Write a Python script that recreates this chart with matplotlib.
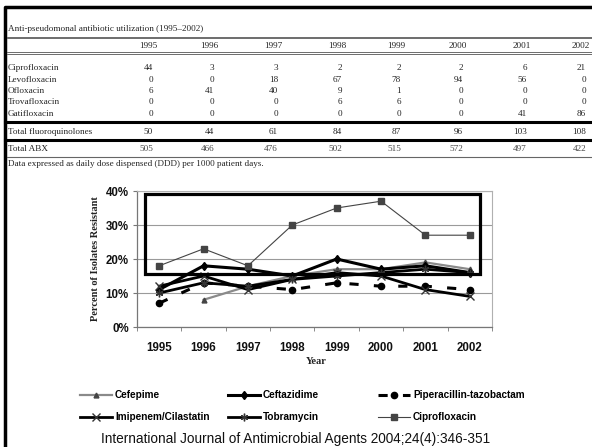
import numpy as np
import matplotlib
matplotlib.use("Agg")
import matplotlib.pyplot as plt
from matplotlib.lines import Line2D
from matplotlib.patches import Rectangle
from matplotlib.ticker import FuncFormatter, FixedLocator

# utilisation table (DDD per 1000 patient days)
years = ["1995", "1996", "1997", "1998", "1999", "2000", "2001", "2002"]
drugs = ["Ciprofloxacin", "Levofloxacin", "Ofloxacin", "Trovafloxacin", "Gatifloxacin"]
cipro_ddd = [44, 3, 3, 2, 2, 2, 6, 21]
levo_ddd = [0, 0, 18, 67, 78, 94, 56, 0]
oflo_ddd = [6, 41, 40, 9, 1, 0, 0, 0]
trova_ddd = [0, 0, 0, 6, 6, 0, 0, 0]
gati_ddd = [0, 0, 0, 0, 0, 0, 41, 86]
total_fq = [50, 44, 61, 84, 87, 96, 103, 108]
total_abx = [505, 466, 476, 502, 515, 572, 497, 422]

# resistance (% of isolates)
cefepime = [np.nan, 8, 12, 15, 17, 17, 19, 17]
ceftazidime = [11, 18, 17, 15, 20, 17, 18, 16]
piperacillin = [7, 13, 12, 11, 13, 12, 12, 11]
imipenem = [12, 15, 11, 14, 16, 15, 11, 9]
tobramycin = [10, 13, 12, 14, 15, 16, 17, 16]
ciprofloxacin = [18, 23, 18, 30, 35, 37, 27, 27]

W, H = 592, 447
fig = plt.figure(figsize=(W / 100, H / 100), dpi=100)


def fx(x):
    return x / W


def fy(y):
    return 1 - y / H


def hline(y, x0, x1, lw, color):
    fig.add_artist(Line2D([fx(x0), fx(x1)], [fy(y), fy(y)], lw=lw, color=color,
                          transform=fig.transFigure))


serif = "Liberation Serif"
sans = "Liberation Sans"

# page frame
fig.add_artist(Line2D([fx(5), fx(5), fx(592)], [fy(470), fy(7), fy(7)], lw=2.5,
                      color="black", transform=fig.transFigure))

# ---- table ----
tfs = 6.6
fig.text(fx(8), fy(29), "Anti-pseudomonal antibiotic utilization (1995\u20132002)",
         fontsize=tfs, family=serif, va="center", color="#222")
hline(36.5, 7, 592, 0.6, "#555")
hline(38, 7, 592, 0.6, "#555")
col_right = [157, 218, 282, 346, 405, 467, 531, 590]
for yr, xr in zip(years, col_right):
    fig.text(fx(xr), fy(45.5), yr, fontsize=tfs, family=serif, ha="right",
             va="center", color="#222")
hline(52, 7, 592, 0.6, "#555")
hline(53.5, 7, 592, 0.6, "#555")

rows = [cipro_ddd, levo_ddd, oflo_ddd, trova_ddd, gati_ddd]
row_y = [68, 79.5, 91, 102.5, 114]
for name, vals, ry in zip(drugs, rows, row_y):
    fig.text(fx(8), fy(ry), name, fontsize=tfs, family=serif, va="center", color="#222")
    for v, xr in zip(vals, col_right):
        fig.text(fx(xr - 4), fy(ry), str(v), fontsize=tfs, family=serif,
                 ha="right", va="center", color="#222")

hline(122, 5, 592, 2.2, "black")
fig.text(fx(8), fy(132), "Total fluoroquinolones", fontsize=tfs, family=serif,
         va="center", color="#222")
for v, xr in zip(total_fq, col_right):
    fig.text(fx(xr - 4), fy(132), str(v), fontsize=tfs, family=serif,
             ha="right", va="center", color="#222")
hline(140, 5, 592, 2.2, "black")
fig.text(fx(8), fy(149), "Total ABX", fontsize=tfs, family=serif, va="center", color="#222")
for v, xr in zip(total_abx, col_right):
    fig.text(fx(xr - 4), fy(149), str(v), fontsize=tfs, family=serif,
             ha="right", va="center", color="#444")
hline(157, 7, 592, 0.8, "#666")
fig.text(fx(8), fy(164), "Data expressed as daily dose dispensed (DDD) per 1000 patient days.",
         fontsize=tfs, family=serif, va="center", color="#222")

# ---- resistance chart ----
ax = fig.add_axes([fx(137), fy(327), fx(492) - fx(137), (327 - 191) / H])
x = np.arange(len(years))

ax.plot(x, cefepime, color="#8a8a8a", lw=1.6, marker="^", ms=3.5, mfc="#444",
        mec="#444", label="Cefepime", zorder=3)
ax.plot(x, ceftazidime, color="black", lw=2.2, marker="d", ms=4.5,
        label="Ceftazidime", zorder=4)
ax.plot(x, piperacillin, color="black", lw=2.2, ls=(0, (3, 5)), marker="o", ms=4.5,
        label="Piperacillin-tazobactam", zorder=4)
ax.plot(x, imipenem, color="black", lw=2.0, marker="x", ms=5.5, mew=1.0, mec="#333",
        label="Imipenem/Cilastatin", zorder=4)
ax.plot(x, tobramycin, color="black", lw=2.0, marker=(6, 2, 0), ms=5.5, mew=1.0,
        mec="#333", label="Tobramycin", zorder=4)
ax.plot(x, ciprofloxacin, color="#444", lw=0.8, marker="s", ms=4.2,
        label="Ciprofloxacin", zorder=4)

# highlight box around the fluoroquinolone/ceftazidime region
box_x0, box_x1 = -0.32, 7.22
box_y0, box_y1 = 15.5, 39.0
ax.add_patch(Rectangle((box_x0, box_y0), box_x1 - box_x0, box_y1 - box_y0,
                       fill=False, lw=2.3, ec="black", zorder=6))

ax.set_xlim(-0.5, len(years) - 0.5)
ax.set_ylim(0, 40)
ax.set_yticks([0, 10, 20, 30, 40])
ax.yaxis.set_major_formatter(FuncFormatter(lambda v, p: "%d%%" % v))
ax.grid(axis="y", color="#9a9a9a", lw=0.8)
ax.set_axisbelow(True)
ax.set_xticks(x)
ax.set_xticklabels(years)
ax.xaxis.set_minor_locator(FixedLocator(np.arange(-0.5, len(years), 1.0)))
ax.tick_params(axis="x", which="major", length=0, pad=11)
ax.tick_params(axis="x", which="minor", length=3, color="#777", direction="out")
ax.tick_params(axis="y", length=3, color="#777", direction="out", pad=3)
for lab in ax.get_xticklabels() + ax.get_yticklabels():
    lab.set_fontsize(8.3)
    lab.set_fontweight("bold")
    lab.set_family(sans)
    lab.set_color("#111")
for s in ["top", "right"]:
    ax.spines[s].set_color("#b0b0b0")
    ax.spines[s].set_linewidth(0.8)
for s in ["left", "bottom"]:
    ax.spines[s].set_color("#777")
    ax.spines[s].set_linewidth(0.9)

fig.text(fx(96), fy(259), "Percent of Isolates Resistant", rotation=90, ha="center",
         va="center", fontsize=7.5, family=serif, fontweight="bold", color="#222")
fig.text(fx(316), fy(361), "Year", ha="center", va="center", fontsize=7.5,
         family=serif, fontweight="bold", color="#222")

# legend in three columns
handles, labels = ax.get_legend_handles_labels()
order = [(0, 3), (1, 4), (2, 5)]
col_x = [80, 228, 378]
for (i, j), cx in zip(order, col_x):
    leg = fig.legend([handles[i], handles[j]], [labels[i], labels[j]],
                     loc="upper left", bbox_to_anchor=(fx(cx), fy(390)),
                     frameon=False, handlelength=3.2, handletextpad=0.3,
                     labelspacing=1.25, borderpad=0, borderaxespad=0,
                     prop={"family": sans, "weight": "bold", "size": 7.2})

fig.text(fx(296), fy(439), "International Journal of Antimicrobial Agents 2004;24(4):346-351",
         ha="center", va="center", fontsize=9.8, family=sans, color="#111")

fig.savefig("out.png", dpi=100)
